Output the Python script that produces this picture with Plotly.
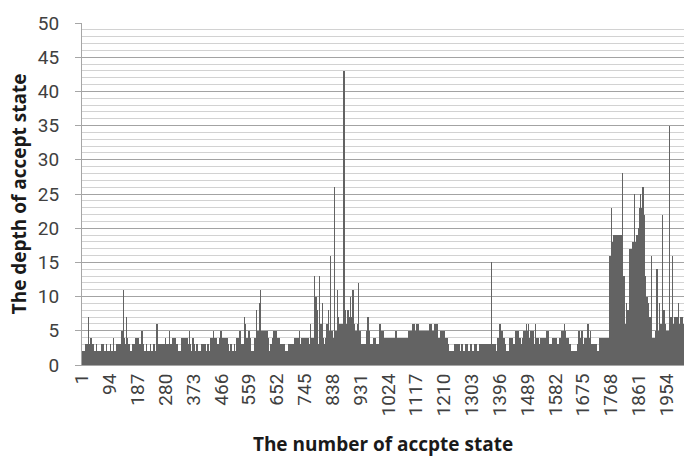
import plotly.graph_objects as go

# ---- data: depth of each accept state (count, depth) ----
runs_0001_0319 = [
    (2, 2), (4, 1), (5, 2), (1, 3), (4, 2), (1, 3), (5, 2), (1, 7),
    (7, 3), (1, 4), (3, 3), (3, 2), (1, 3), (10, 2), (1, 3), (15, 2), (1, 3), (5, 2), (1, 3), (10, 2), (1, 3), (4, 2),
    (4, 1), (4, 2), (1, 3), (9, 2), (1, 4), (2, 2),
    (9, 2), (1, 3), (6, 2), (3, 3), (3, 2),
    (3, 3), (3, 5), (3, 3), (1, 11),
    (4, 4), (4, 3), (1, 7), (4, 4), (8, 3),
    (5, 2), (2, 1), (2, 2),
    (9, 3), (12, 4), (10, 3), (2, 5),
    (4, 3), (8, 2), (3, 3), (11, 2), (1, 3), (11, 2), (1, 3), (9, 2), (1, 6),
    (5, 2), (12, 3), (2, 2), (9, 3), (1, 4), (5, 3),
    (7, 3), (1, 5), (8, 3), (12, 4), (6, 3),
]
runs_0320_0545 = [
    (12, 2),
    (5, 4), (1, 3), (7, 4), (2, 3), (5, 4),
    (7, 3), (1, 5),
    (4, 3), (6, 2), (3, 4), (4, 3),
    (8, 2), (1, 3), (13, 2),
    (14, 3),
    (8, 2), (3, 3), (7, 2),
    (9, 4), (1, 5), (8, 4),
    (11, 3),
    (3, 4), (4, 5),
    (8, 4), (2, 3), (10, 4),
    (4, 3), (7, 2), (3, 3), (8, 2), (2, 3), (5, 2),
    (11, 4), (2, 5),
    (14, 3), (1, 7), (2, 6),
]
runs_0546_0765 = [
    (11, 4), (2, 5), (6, 4), (12, 2),
    (7, 4), (1, 8), (3, 5),
    (5, 5), (1, 9), (2, 5), (1, 11),
    (10, 5), (3, 4), (10, 5), (3, 4), (9, 2),
    (5, 3), (5, 4), (9, 5), (10, 4),
    (18, 3), (11, 2),
    (4, 3), (4, 2), (3, 3), (11, 3),
    (14, 4), (1, 5), (2, 4),
    (6, 3), (11, 4), (6, 3), (5, 4),
    (6, 3), (1, 6), (2, 3),
]
runs_0766_0996 = [
    (10, 4), (1, 13),
    (3, 4), (3, 10), (4, 8), (3, 3), (4, 2), (1, 3), (1, 13),
    (2, 4), (3, 6), (2, 4), (1, 9),
    (5, 4), (4, 3), (5, 4),
    (5, 6), (1, 4), (1, 8),
    (5, 5), (1, 16),
    (8, 5), (6, 4), (1, 26),
    (7, 5), (1, 11), (2, 5), (1, 7),
    (10, 6), (7, 6), (1, 8), (1, 6), (1, 43),
    (3, 6), (1, 8), (7, 6), (3, 8), (3, 7), (4, 6), (1, 10), (2, 7), (5, 6), (1, 11),
    (5, 6), (5, 5), (3, 4), (5, 6), (1, 12),
    (3, 4), (4, 5), (17, 3), (6, 5), (1, 7),
    (4, 5), (14, 3), (5, 4),
    (6, 3), (3, 2), (7, 3), (1, 6),
]
runs_0997_1222 = [
    (5, 3), (5, 5),
    (41, 4), (3, 5), (40, 4),
    (15, 5), (6, 6), (8, 5), (5, 6),
    (37, 5), (8, 6), (7, 5), (10, 6),
    (10, 4), (16, 5), (10, 4),
]
runs_1223_1369 = [
    (3, 3), (20, 2), (5, 3), (6, 2), (5, 3), (6, 2), (5, 3), (10, 2), (7, 3), (9, 2),
    (4, 3), (10, 2), (7, 3), (10, 2), (39, 3), (1, 15),
]
runs_1370_1761 = [
    (12, 3), (6, 2), (8, 4), (2, 6),
    (5, 4), (4, 5), (4, 4),
    (5, 3), (12, 2), (10, 4), (12, 3),
    (10, 5), (5, 4), (6, 3), (6, 4), (8, 5), (1, 6), (5, 5), (1, 6),
    (6, 4), (3, 5), (4, 4), (3, 5),
    (8, 3), (1, 6), (8, 4), (9, 3),
    (8, 4), (2, 3), (10, 4), (7, 5),
    (6, 3), (4, 2), (2, 3), (5, 4), (3, 3), (4, 4),
    (6, 3), (3, 2), (3, 3),
    (6, 4), (9, 5), (1, 6), (4, 5), (8, 4), (8, 3),
    (23, 2),
    (4, 3), (3, 5), (5, 4), (4, 5),
    (9, 3), (10, 4), (2, 6),
    (5, 4), (3, 5), (18, 3), (11, 2),
    (8, 4), (3, 3), (10, 4), (2, 3), (9, 4),
]
runs_1762_2011 = [
    (1, 12), (7, 16), (1, 23), (4, 18), (7, 19), (2, 18), (23, 19), (1, 28), (4, 13),
    (7, 6), (1, 9), (4, 6), (1, 8), (6, 6),
    (8, 17), (6, 18), (1, 25), (6, 18), (9, 19), (2, 20), (3, 23), (1, 25), (8, 23), (1, 26),
    (3, 22), (5, 13), (5, 10), (3, 9), (12, 7), (1, 16),
    (13, 4), (3, 5), (1, 14), (7, 5), (1, 9), (9, 6), (1, 22),
    (5, 6), (1, 8), (5, 6), (13, 5), (1, 35), (7, 7), (1, 16),
    (8, 6), (8, 7), (5, 6), (1, 9), (6, 6), (5, 7), (6, 6),
]

x_tick_labels = ["1", "94", "187", "280", "373", "466", "559", "652", "745", "838", "931",
                 "1024", "1117", "1210", "1303", "1396", "1489", "1582", "1675", "1768",
                 "1861", "1954"]
y_tick_values = [0, 5, 10, 15, 20, 25, 30, 35, 40, 45, 50]

depth = []
for block in (runs_0001_0319, runs_0320_0545, runs_0546_0765, runs_0766_0996,
              runs_0997_1222, runs_1223_1369, runs_1370_1761, runs_1762_2011):
    for count, value in block:
        depth.extend([value] * count)
state = list(range(1, len(depth) + 1))

tick_font = dict(family="Roboto", size=19, color="#404040")
title_font = dict(family="Open Sans", size=19, color="#1a1a1a")

fig = go.Figure(go.Bar(
    x=state, y=depth,
    marker=dict(color="#636363", line=dict(width=0)),
    hoverinfo="skip",
))

fig.update_layout(
    width=684, height=460,
    margin=dict(l=82, r=0, t=23, b=95, pad=0),
    paper_bgcolor="white", plot_bgcolor="white",
    bargap=0, showlegend=False,
)

fig.update_xaxes(
    type="linear",
    range=[0.5, len(depth) + 0.5],
    tickmode="array",
    tickvals=[int(t) for t in x_tick_labels],
    ticktext=x_tick_labels,
    tickangle=-90,
    tickfont=tick_font,
    showgrid=False, zeroline=False,
    showline=True, linecolor="#a6a6a6", linewidth=1,
    ticks="", ticklen=0,
    title=dict(text="<b>The number of accpte state</b>", font=title_font, standoff=22),
)

fig.update_yaxes(
    range=[0, 50],
    tickmode="array", tickvals=y_tick_values,
    tickfont=tick_font,
    showgrid=True, gridcolor="#a3a3a3", gridwidth=1,
    minor=dict(dtick=1, showgrid=True, gridcolor="#d2d2d2", gridwidth=1),
    zeroline=False,
    showline=True, linecolor="#a6a6a6", linewidth=1,
    ticks="outside", ticklen=6, tickcolor="#a6a6a6",
    ticklabelstandoff=12,
    title=dict(text="<b>The depth of accept state</b>", font=title_font, standoff=6),
)

fig.write_html("out.html")
